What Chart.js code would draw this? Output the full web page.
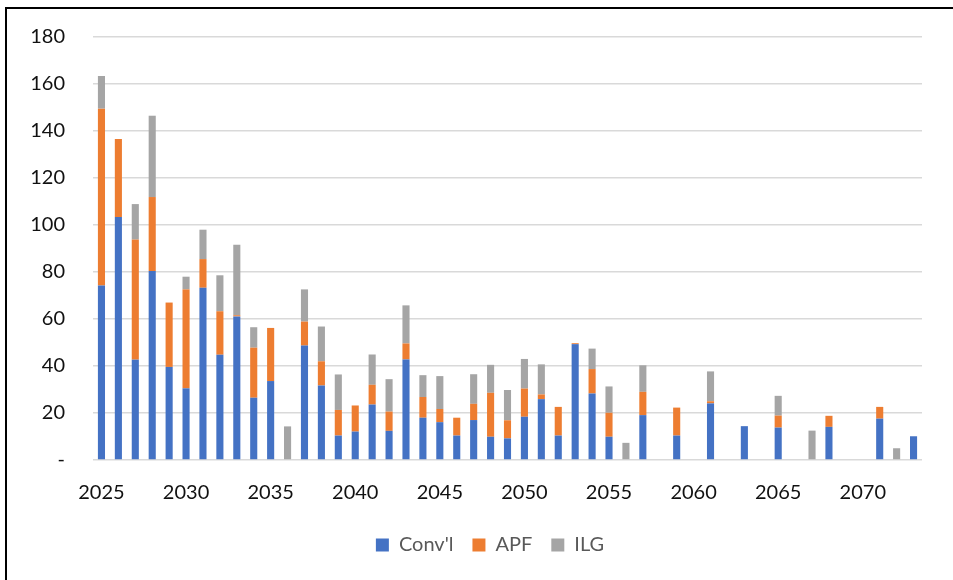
<!DOCTYPE html>
<html>
<head>
<meta charset="utf-8">
<script src="https://cdn.jsdelivr.net/npm/chart.js@4/dist/chart.umd.min.js"></script>
<style>
  html, body { margin: 0; padding: 0; background: #fff; overflow: hidden; }
  #wrap { position: absolute; left: 0; top: 0; width: 953px; height: 580px; }
  #frame { position: absolute; left: 5px; top: 7px; width: 1200px; height: 1000px;
           border-left: 2px solid #000; border-top: 2px solid #000; pointer-events: none; }
</style>
</head>
<body>
<div id="wrap"><canvas id="c"></canvas></div>
<div id="frame"></div>
<script>
const years = [];
for (let y = 2025; y <= 2073; y++) years.push(String(y));

const tickYears = ['2025','2030','2035','2040','2045','2050','2055','2060','2065','2070'];
const yTickLabels = { 0: '-' };

const convl = [74.3,103.4,42.7,80.4,39.6,30.5,73.3,44.8,61.1,26.5,
               33.6,0,48.7,31.7,10.4,12.1,23.6,12.4,42.8,18.0,
               16.1,10.4,17.0,9.9,9.2,18.4,25.9,10.4,49.3,28.3,
               9.9,0,19.1,0,10.4,0,24.1,0,14.4,0,
               13.8,0,0,14.1,0,0,17.6,0,10.1];

const apf = [75.2,33.2,51.1,31.5,27.4,42.1,12.2,18.5,0.5,21.3,
             22.6,0,10.2,10.3,10.9,11.1,8.4,8.2,6.8,8.8,
             5.6,7.6,6.9,18.7,7.7,12.0,2.0,12.2,0.4,10.4,
             10.2,0,9.9,0,11.9,0,0.9,0,0,0,
             5.1,0,0,4.7,0,0,5.0,0,0];

const ilg = [13.9,0,15.1,34.6,0,5.4,12.5,15.3,30.0,8.7,
             0,14.3,13.7,14.8,15.1,0,12.9,13.8,16.2,9.3,
             14.0,0,12.6,11.9,12.9,12.6,12.8,0,0,8.7,
             11.2,7.3,11.3,0,0,0,12.7,0,0,0,
             8.4,0,12.5,0,0,0,0,5.0,0];

const seriesNames = ["Conv'l", 'APF', 'ILG'];
const colors = ['#4472C4', '#ED7D31', '#A5A5A5'];

const FONT = 'Lato, "Open Sans", "DejaVu Sans", sans-serif';

// shift the legend horizontally so it is centred like the original
const legendShift = {
  id: 'legendShift',
  afterLayout(chart) {
    const lg = chart.legend;
    if (!lg) return;
    const dx = 29;
    lg.left += dx; lg.right += dx;
  }
};

new Chart(document.getElementById('c'), {
  type: 'bar',
  data: {
    labels: years,
    datasets: [
      { label: seriesNames[0], data: convl, backgroundColor: colors[0] },
      { label: seriesNames[1], data: apf,   backgroundColor: colors[1] },
      { label: seriesNames[2], data: ilg,   backgroundColor: colors[2] }
    ]
  },
  plugins: [legendShift],
  options: {
    responsive: true,
    maintainAspectRatio: false,
    animation: false,
    datasets: { bar: { barPercentage: 0.42, categoryPercentage: 1.0, borderWidth: 0 } },
    layout: { padding: { top: 37, left: 0, right: 31, bottom: 15 } },
    plugins: {
      tooltip: { enabled: false },
      legend: {
        position: 'bottom',
        labels: {
          boxWidth: 13, boxHeight: 13, padding: 19,
          color: '#595959',
          font: { family: FONT, size: 20 }
        }
      }
    },
    scales: {
      x: {
        stacked: true,
        grid: { display: false, drawTicks: false },
        border: { display: false },
        ticks: {
          autoSkip: false, maxRotation: 0, minRotation: 0, padding: 21,
          color: '#111',
          font: { family: FONT, size: 20 },
          callback: function (v) {
            const l = this.getLabelForValue(v);
            return tickYears.includes(l) ? l : '';
          }
        },
        afterFit: s => { s.height = 56; }
      },
      y: {
        stacked: true,
        min: 0, max: 180,
        grid: { color: '#D9D9D9', lineWidth: 1.5, drawTicks: false },
        border: { display: false },
        ticks: {
          stepSize: 20, padding: 28,
          color: '#111',
          font: { family: FONT, size: 20 },
          callback: v => (yTickLabels[v] !== undefined ? yTickLabels[v] : String(v))
        },
        afterFit: s => { s.width = 93; s.paddingTop = 12; s.paddingBottom = 12; }
      }
    }
  }
});
</script>
</body>
</html>
